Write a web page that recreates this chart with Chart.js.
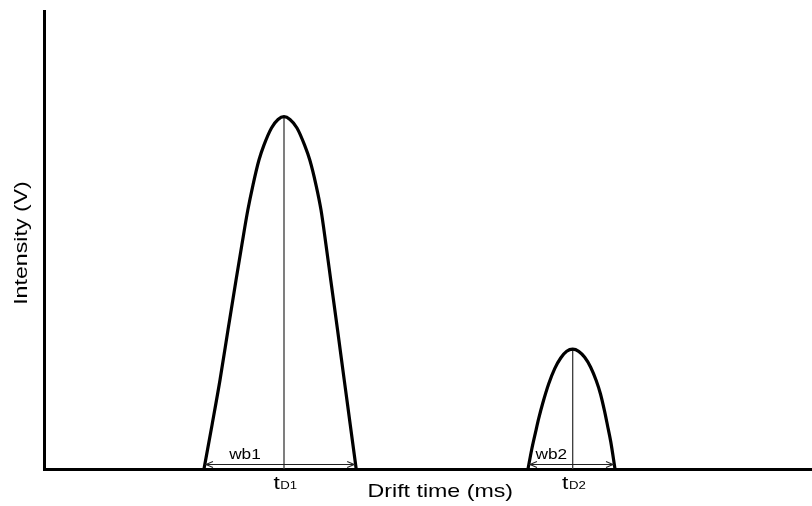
<!DOCTYPE html>
<html>
<head>
<meta charset="utf-8">
<script src="https://cdn.jsdelivr.net/npm/chart.js@4"></script>
<style>
  html, body { margin: 0; padding: 0; background: #fff; }
  canvas { display: block; }
</style>
</head>
<body>
<canvas id="c" width="812" height="506"></canvas>
<script>
// Peak 1 profile: drift time (arbitrary ms units) and detector intensity
const peak1Time      = [20.83, 21.88, 22.92, 23.96, 25.00, 25.76, 26.54, 27.21, 27.99, 28.65, 29.62, 30.47, 31.25,
                        32.03, 32.94, 33.92, 34.61, 35.42, 36.07, 36.72, 37.34, 38.22, 39.09, 39.88, 40.65];
const peak1Intensity = [0.000, 0.125, 0.253, 0.395, 0.536, 0.636, 0.735, 0.806, 0.877, 0.920, 0.968, 0.992, 1.000,
                        0.992, 0.968, 0.920, 0.877, 0.806, 0.735, 0.636, 0.536, 0.395, 0.253, 0.125, 0.000];

// Peak 2 profile
const peak2Time      = [63.02, 63.49, 64.02, 64.41, 64.93, 65.72, 66.50, 67.28, 68.06, 68.84,
                        69.62, 70.40, 71.18, 71.90, 72.46, 72.96, 73.36, 73.80, 74.35];
const peak2Intensity = [0.000, 0.054, 0.106, 0.143, 0.186, 0.242, 0.285, 0.315, 0.334, 0.340,
                        0.334, 0.317, 0.289, 0.251, 0.213, 0.167, 0.125, 0.077, 0.000];

// Annotation texts
const widthLabels = ['wb1', 'wb2'];
const driftLabels = ['D1', 'D2'];
const xTitle = 'Drift time (ms)';
const yTitle = 'Intensity (V)';

const FONT = "'Liberation Sans', Arial, Helvetica, sans-serif";

function toPoints(xs, ys) {
  return xs.map((t, i) => ({ x: t, y: ys[i] }));
}
function apexOf(xs, ys) {
  let k = 0;
  ys.forEach((v, i) => { if (v > ys[k]) k = i; });
  return { x: xs[k], y: ys[k] };
}

const peaks = [
  { time: peak1Time, intensity: peak1Intensity },
  { time: peak2Time, intensity: peak2Intensity }
];
peaks.forEach(p => { p.apex = apexOf(p.time, p.intensity); });

const profileStyle = {
  borderColor: '#000',
  borderWidth: 3.2,
  pointRadius: 0,
  fill: false,
  cubicInterpolationMode: 'monotone',
  borderJoinStyle: 'round'
};
const apexLineStyle = {
  borderColor: '#3a3a3a',
  borderWidth: 1.3,
  pointRadius: 0,
  fill: false,
  tension: 0
};

const datasets = [];
peaks.forEach(p => {
  datasets.push(Object.assign({ data: toPoints(p.time, p.intensity) }, profileStyle));
  datasets.push(Object.assign({ data: [{ x: p.apex.x, y: 0 }, { x: p.apex.x, y: p.apex.y }] }, apexLineStyle));
});

// Draws text stretched horizontally around its anchor
function stretchedText(ctx, text, x, y, font, sx) {
  ctx.save();
  ctx.translate(x, y);
  ctx.scale(sx, 1);
  ctx.font = font;
  ctx.fillText(text, 0, 0);
  ctx.restore();
}

const annotations = {
  id: 'annotations',
  afterDatasetsDraw(chart) {
    const { ctx, chartArea } = chart;
    const xs = chart.scales.x, ys = chart.scales.y;
    const base = ys.getPixelForValue(0);
    ctx.save();
    ctx.fillStyle = '#000';

    peaks.forEach((p, i) => {
      const x0 = xs.getPixelForValue(p.time[0]);
      const x1 = xs.getPixelForValue(p.time[p.time.length - 1]);
      const ax = xs.getPixelForValue(p.apex.x);

      // Base-width double arrow
      const ay = Math.round(base - 5) + 0.5;
      const l = x0 + 2, r = x1 - 2;
      ctx.strokeStyle = '#222';
      ctx.lineWidth = 1.1;
      ctx.beginPath();
      ctx.moveTo(l, ay); ctx.lineTo(r, ay);
      ctx.moveTo(l + 7, ay - 3); ctx.lineTo(l, ay); ctx.lineTo(l + 7, ay + 3);
      ctx.moveTo(r - 7, ay - 3); ctx.lineTo(r, ay); ctx.lineTo(r - 7, ay + 3);
      ctx.stroke();

      // Width label above the arrow
      ctx.textAlign = 'center';
      ctx.textBaseline = 'alphabetic';
      stretchedText(ctx, widthLabels[i], (x0 + ax) / 2 + 1, base - 10, '15px ' + FONT, 1.15);

      // Drift-time label below the axis: large "t" with smaller suffix
      const bigFont = '19px ' + FONT, smallFont = '11px ' + FONT;
      const sx = 1.2;
      ctx.font = bigFont;
      const wt = ctx.measureText('t').width * sx;
      ctx.font = smallFont;
      const ws = ctx.measureText(driftLabels[i]).width * sx;
      const start = ax + 1 - (wt + ws) / 2;
      ctx.textAlign = 'left';
      stretchedText(ctx, 't', start, base + 20, bigFont, sx);
      stretchedText(ctx, driftLabels[i], start + wt + 0.5, base + 20, smallFont, sx);
    });

    // Axis titles
    ctx.textAlign = 'center';
    ctx.textBaseline = 'alphabetic';
    const cx = chartArea.left + (chartArea.right - chartArea.left) * 0.516;
    stretchedText(ctx, xTitle, cx, base + 28, '19px ' + FONT, 1.22);

    ctx.save();
    ctx.translate(22, (chartArea.top + chartArea.bottom) / 2 + 3);
    ctx.rotate(-Math.PI / 2);
    ctx.scale(1.22, 1);
    ctx.textBaseline = 'middle';
    ctx.font = '19px ' + FONT;
    ctx.fillText(yTitle, 0, 0);
    ctx.restore();

    ctx.restore();
  }
};

const axisBorder = { display: true, color: '#000', width: 3 };

new Chart(document.getElementById('c'), {
  type: 'line',
  data: { datasets },
  options: {
    responsive: false,
    animation: false,
    devicePixelRatio: 1,
    layout: { padding: { top: 11, right: 0, bottom: 0, left: 0 } },
    plugins: { legend: { display: false }, tooltip: { enabled: false } },
    scales: {
      x: {
        type: 'linear',
        min: 0, max: 100,
        grid: { display: false },
        ticks: { display: false },
        border: axisBorder,
        afterFit: s => { s.height = 37; }
      },
      y: {
        type: 'linear',
        min: 0, max: 1.3,
        grid: { display: false },
        ticks: { display: false },
        border: axisBorder,
        afterFit: s => { s.width = 44; }
      }
    }
  },
  plugins: [annotations]
});
</script>
</body>
</html>
